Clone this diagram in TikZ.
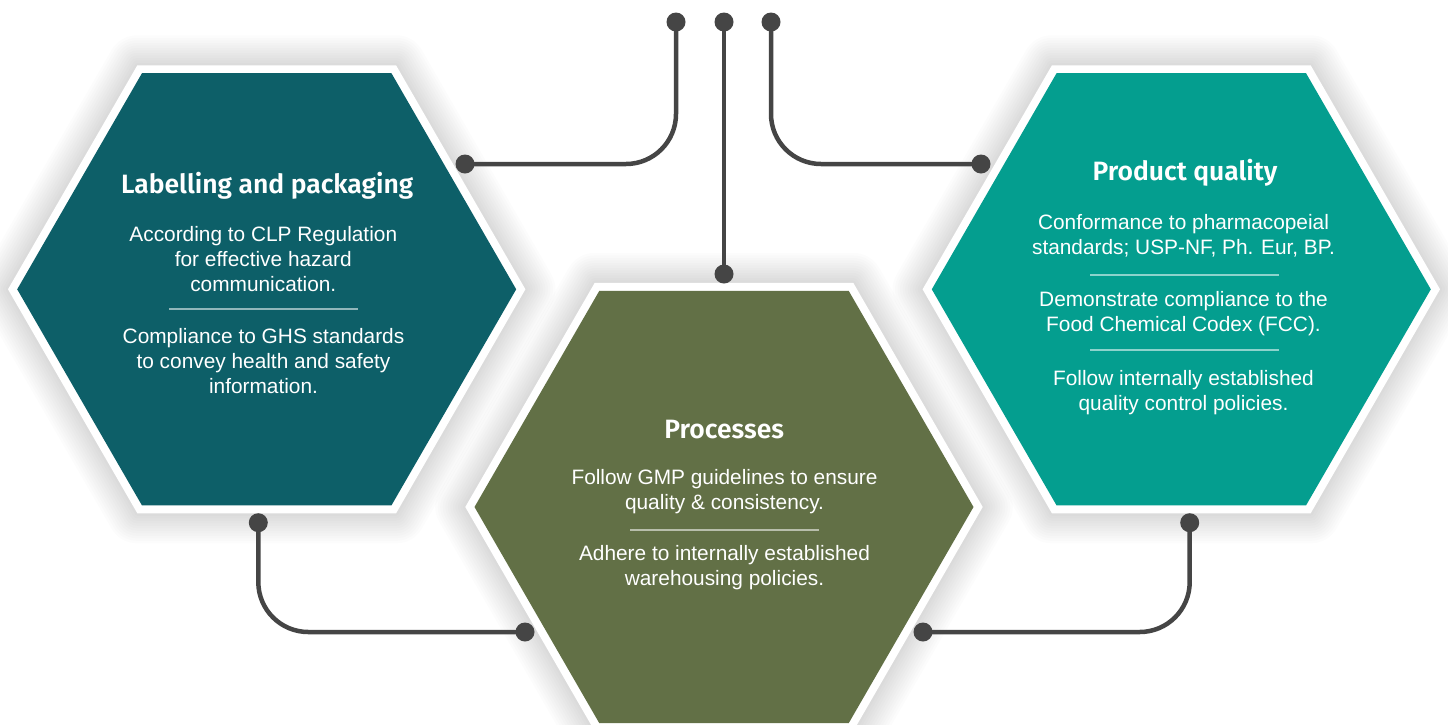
\documentclass[tikz,border=0pt]{standalone}
\usepackage{fontspec}
\setmainfont{Liberation Sans}
\newfontfamily\titlefont{Fira Sans SemiBold}
\definecolor{hexL}{HTML}{0D5F68}
\definecolor{hexM}{HTML}{627046}
\definecolor{hexR}{HTML}{049E8F}
\definecolor{lineg}{HTML}{454545}
\newcommand{\hexp}[3]{({#1-#3},{#2}) -- ({#1-#3/2},{#2-0.8660*#3}) -- ({#1+#3/2},{#2-0.8660*#3}) -- ({#1+#3},{#2}) -- ({#1+#3/2},{#2+0.8660*#3}) -- ({#1-#3/2},{#2+0.8660*#3}) -- cycle}
\tikzset{
  txt/.style={anchor=base, inner sep=0pt, text=white, font=\fontsize{20.85}{25}\selectfont},
  ttl/.style={anchor=base, inner sep=0pt, text=white, font=\titlefont\fontsize{26.5}{30}\selectfont},
  divider/.style={draw=white, draw opacity=0.55, line width=1.6},
  conn/.style={draw=lineg, line width=4.5, rounded corners=50},
  dot/.style={circle, fill=lineg, minimum size=19, inner sep=0pt},
}
\begin{document}
\begin{tikzpicture}[x=1pt,y=-1pt]
\useasboundingbox (0,0) rectangle (1448,724);
\fill[white] (0,0) rectangle (1448,724);
% hexagon centres
\coordinate (hl) at (266.7,289.3);
\coordinate (hm) at (724,507);
\coordinate (hr) at (1181.3,289.3);
% soft glow
\foreach \cx/\cy in {266.7/289.3, 724/507, 1181.3/289.3}{
  \foreach \k in {1,...,12}{
    \pgfmathsetmacro{\lw}{5*\k}
    \draw[black, draw opacity=0.012, line width=\lw pt, line join=round] \hexp{\cx}{\cy}{258.7};
  }
}
% white borders and fills
\foreach \cx/\cy/\col in {266.7/289.3/hexL, 1181.3/289.3/hexR, 724/507/hexM}{
  \fill[white] \hexp{\cx}{\cy}{258.7};
  \fill[\col] \hexp{\cx}{\cy}{249.5};
}
% Left hexagon text
\node[ttl] (lt) at (267.2,193.3) {Labelling and packaging};
\node[txt] (l1) at (263.3,241.7) {According to CLP Regulation};
\node[txt] (l2) at (263.3,266.7) {for effective hazard};
\node[txt] (l3) at (263.3,291.7) {communication.};
\draw[divider] (169.3,309) -- (358.3,309);
\node[txt] (l4) at (263.5,343.3) {Compliance to GHS standards};
\node[txt] (l5) at (263.5,368.3) {to convey health and safety};
\node[txt] (l6) at (263.5,393.3) {information.};
% Middle hexagon text
\node[ttl] (mt) at (724.3,438.3) {Processes};
\node[txt] (m1) at (724.5,484.3) {Follow GMP guidelines to ensure};
\node[txt] (m2) at (724.5,509.5) {quality \& consistency.};
\draw[divider] (630,530) -- (819.3,530);
\node[txt] (m3) at (724.5,560.5) {Adhere to internally established};
\node[txt] (m4) at (724.5,585.5) {warehousing policies.};
% Right hexagon text
\node[ttl] (rt) at (1185,180.7) {Product quality};
\node[txt] (r1) at (1183.5,229.7) {Conformance to pharmacopeial};
\node[txt] (r2) at (1183.5,254.5) {standards; USP-NF, Ph. Eur, BP.};
\draw[divider] (1090,275) -- (1279.3,275);
\node[txt] (r3) at (1183.5,306.7) {Demonstrate compliance to the};
\node[txt] (r4) at (1183.5,331.7) {Food Chemical Codex (FCC).};
\draw[divider] (1090,350) -- (1279.3,350);
\node[txt] (r5) at (1183.5,385) {Follow internally established};
\node[txt] (r6) at (1183.5,410) {quality control policies.};
% connector dots
\node[dot] (c1a) at (676,22) {};
\node[dot] (c1b) at (465,164) {};
\node[dot] (c2a) at (724,22) {};
\node[dot] (c2b) at (724,274) {};
\node[dot] (c3a) at (771,22) {};
\node[dot] (c3b) at (981,164) {};
\node[dot] (c4a) at (258.3,522.7) {};
\node[dot] (c4b) at (525,632) {};
\node[dot] (c5a) at (1189.7,522.7) {};
\node[dot] (c5b) at (923,632) {};
% connectors
\draw[conn] (c1a.center) |- (c1b.center);
\draw[conn] (c2a.center) -- (c2b.center);
\draw[conn] (c3a.center) |- (c3b.center);
\draw[conn] (c4a.center) |- (c4b.center);
\draw[conn] (c5a.center) |- (c5b.center);
\end{tikzpicture}
\end{document}
